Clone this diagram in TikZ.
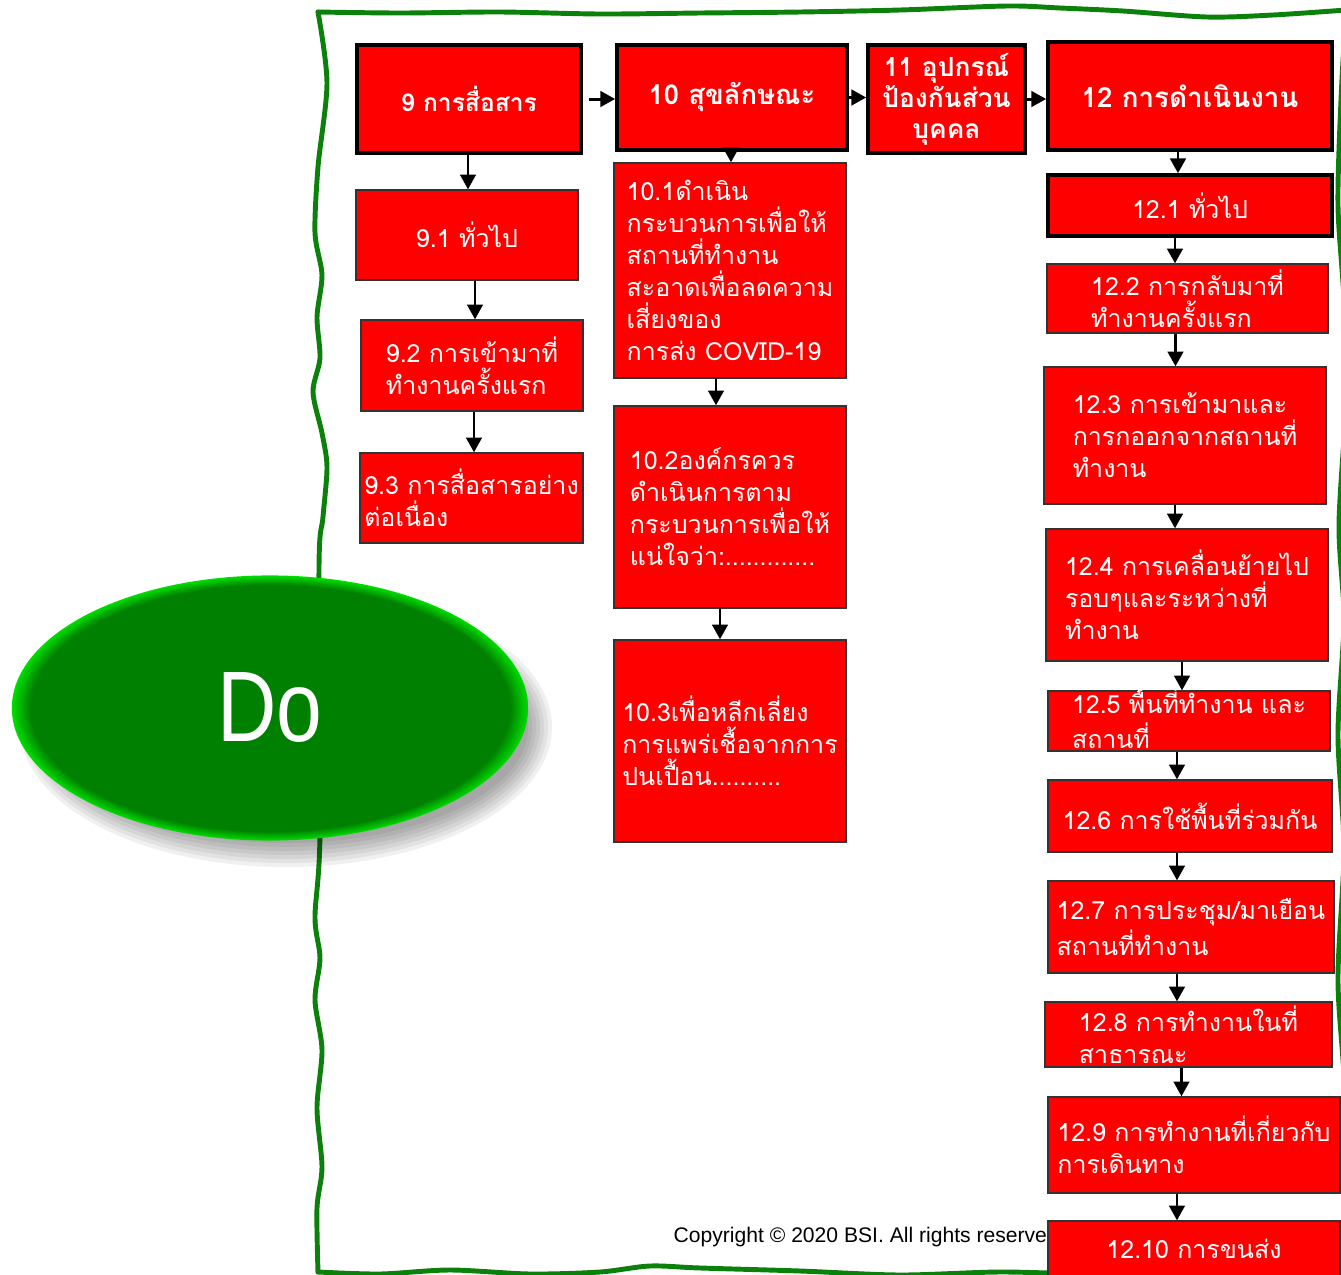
\documentclass[tikz,border=0pt]{standalone}
\usepackage{fontspec}
\newfontfamily\thaifont[Script=Thai]{Loma}
\newfontfamily\latinfont{Liberation Sans}
\newfontfamily\dofont[FakeStretch=0.82]{Liberation Sans}
\usepackage{tikz}
\usetikzlibrary{shapes.geometric, arrows.meta}
\definecolor{boxred}{HTML}{FF0000}
\definecolor{dogreen}{HTML}{008000}
\definecolor{dolight}{HTML}{00DD00}
\definecolor{framegreen}{HTML}{0B800B}
\pgfdeclareradialshading{dorim}{\pgfpoint{0bp}{0bp}}{color(0bp)=(dogreen); color(23.2bp)=(dogreen); color(25bp)=(dolight); color(50bp)=(dolight)}

\begin{document}
\begin{tikzpicture}[
    x=0.01cm, y=-0.01cm,
    mainbox/.style={
        draw=black,
        line width=1pt,
        fill=boxred,
        text=white,
        inner sep=0pt,
        font=\thaifont\bfseries\fontsize{7}{8.8}\selectfont,
        align=center
    },
    subbox/.style={
        draw=black!80,
        line width=0.35pt,
        fill=boxred,
        text=white,
        inner sep=0pt,
        font=\thaifont\fontsize{7.1}{9.1}\selectfont,
        align=left
    },
    arrow/.style={
        -{Triangle[length=4.2pt, width=4.4pt]},
        line width=0.85pt,
        color=black
    },
    frame/.style={
        draw=framegreen,
        line width=1.4pt,
        line cap=round
    }
]
\useasboundingbox (0,0) rectangle (1341,1275);

% Wavy green frame
\draw[frame] plot[smooth] coordinates {(318,12) (400,13) (500,12) (600,14) (700,13) (800,12)
    (900,10) (1007,6) (1060,8) (1123,11) (1207,17) (1273,15) (1346,10)};
\draw[frame] plot[smooth] coordinates {(1346,10) (1341,100) (1338,205) (1344,300) (1346,400)
    (1339,525) (1344,620) (1338,735) (1344,850) (1338,980) (1345,1100) (1343,1273)};
\draw[frame] plot[smooth] coordinates {(1343,1273) (1200,1270) (1100,1274) (1000,1272) (900,1275)
    (800,1271) (700,1268) (650,1266) (600,1272) (530,1274) (450,1270) (380,1274) (318,1272)};
\draw[frame] plot[smooth] coordinates {(318,1272) (317,1208) (322,1167) (317,1108) (322,1050)
    (315,1000) (320,958) (315,917) (320,833) (319,567) (323,517) (327,467) (322,433)
    (313,392) (320,358) (317,317) (322,275) (315,233) (318,167) (327,83) (318,12)};

% Soft shadow of the Do ellipse
\foreach \i in {0,...,6} {
    \fill[black, opacity=0.06] (286,727) ellipse [x radius={(266-4*\i)*0.01cm}, y radius={(140-4*\i)*0.01cm}];
}

% Do ellipse
\node[ellipse, shading=dorim, minimum width=5.16cm, minimum height=2.65cm,
      inner sep=0pt, text=white, font=\dofont\fontsize{28.5}{28.5}\selectfont]
      (do) at (270,708) {\raisebox{-0.06cm}{Do}};

% Copyright line (partly hidden by 12.10)
\node[font=\latinfont\fontsize{6}{7}\selectfont, anchor=base west, inner sep=0pt] (copy) at (673,1242)
    {Copyright © 2020 BSI. All rights reserved.};

% Main steps
\node[mainbox, minimum width=2.24cm, minimum height=1.08cm] (b9) at (469,99) {9 การสื่อสาร};
\node[mainbox, minimum width=2.30cm, minimum height=1.05cm,
      font=\thaifont\bfseries\fontsize{7.8}{9}\selectfont] (b10) at (732,97.5) {10 สุขลักษณะ};
\node[mainbox, minimum width=1.57cm, minimum height=1.08cm,
      font=\thaifont\bfseries\fontsize{7.5}{8.8}\selectfont] (b11) at (946.5,99)
    {11 อุปกรณ์\\ป้องกันส่วน\\บุคคล};
\node[mainbox, minimum width=2.84cm, minimum height=1.08cm,
      font=\thaifont\bfseries\fontsize{7.9}{9}\selectfont] (b12) at (1190,96) {12 การดำเนินงาน};

% Column 9
\node[subbox, minimum width=2.22cm, minimum height=0.90cm] (b91) at (467,235) {9.1 ทั่วไป};
\node[subbox, minimum width=2.22cm, minimum height=0.91cm] (b92) at (472,365.5)
    {9.2 การเข้ามาที่\\ทำงานครั้งแรก};
\node[subbox, minimum width=2.23cm, minimum height=0.90cm] (b93) at (471.5,498)
    {9.3 การสื่อสารอย่าง\\ต่อเนื่อง};

% Column 10
\node[subbox, minimum width=2.32cm, minimum height=2.15cm] (b101) at (730,270.5)
    {10.1ดำเนิน\\กระบวนการเพื่อให้\\สถานที่ทำงาน\\สะอาดเพื่อลดความ\\เสี่ยงของ\\การส่ง COVID-19};
\node[subbox, minimum width=2.32cm, minimum height=2.02cm] (b102) at (730,507)
    {10.2องค์กรควร\\ดำเนินการตาม\\กระบวนการเพื่อให้\\แน่ใจว่า:.............};
\node[subbox, minimum width=2.32cm, minimum height=2.02cm] (b103) at (730,741)
    {10.3เพื่อหลีกเลี่ยง\\การแพร่เชื้อจากการ\\ปนเปื้อน..........};

% Column 12
\node[mainbox, minimum width=2.84cm, minimum height=0.61cm,
      font=\thaifont\fontsize{7.1}{9.1}\selectfont] (b121) at (1190,205.5) {12.1 ทั่วไป};
\node[subbox, minimum width=2.81cm, minimum height=0.69cm] (b122) at (1187.5,298.5)
    {12.2 การกลับมาที่\\ทำงานครั้งแรก};
\node[subbox, minimum width=2.82cm, minimum height=1.37cm] (b123) at (1185,435.5)
    {12.3 การเข้ามาและ\\การกออกจากสถานที่\\ทำงาน};
\node[subbox, minimum width=2.82cm, minimum height=1.32cm] (b124) at (1187,595)
    {12.4 การเคลื่อนย้ายไป\\รอบๆและระหว่างที่\\ทำงาน};
\node[subbox, minimum width=2.82cm, minimum height=0.60cm] (b125) at (1189,721)
    {\raisebox{-0.08cm}[0pt][0pt]{\begin{tabular}{@{}l@{}}12.5 พื้นที่ทำงาน และ\\สถานที่\end{tabular}}};
\node[subbox, minimum width=2.84cm, minimum height=0.72cm] (b126) at (1190,816)
    {12.6 การใช้พื้นที่ร่วมกัน};
\node[subbox, minimum width=2.86cm, minimum height=0.92cm] (b127) at (1191,927)
    {12.7 การประชุม/มาเยือน\\สถานที่ทำงาน};
\node[subbox, minimum width=2.87cm, minimum height=0.65cm] (b128) at (1188.5,1034.5)
    {12.8 การทำงานในที่\\สาธารณะ};
\node[subbox, minimum width=2.92cm, minimum height=0.96cm] (b129) at (1194,1145)
    {12.9 การทำงานที่เกี่ยวกับ\\การเดินทาง};
\node[subbox, minimum width=2.92cm, minimum height=0.56cm] (b1210) at (1194,1249)
    {12.10 การขนส่ง};

% Arrows between main steps
\draw[arrow] ([xshift=0.06cm]b9.east) -- (b9.east -| b10.west);
\draw[arrow] (b10.east) -- (b10.east -| b11.west);
\draw[arrow] (b11.east) -- (b11.east -| b12.west);

% Arrows down the columns
\foreach \a/\b/\dx in {b9/b91/-1, b91/b92/8, b92/b93/2, b10/b101/-1, b101/b102/-14, b102/b103/-10,
                       b12/b121/-12, b121/b122/-15, b122/b123/-12, b123/b124/-10, b124/b125/-5,
                       b125/b126/-12, b126/b127/-13, b127/b128/-14, b128/b129/-7, b129/b1210/-17} {
    \path (\a.south) ++(\dx,0) coordinate (top);
    \draw[arrow] (top) -- (top |- \b.north);
}

\end{tikzpicture}
\end{document}
